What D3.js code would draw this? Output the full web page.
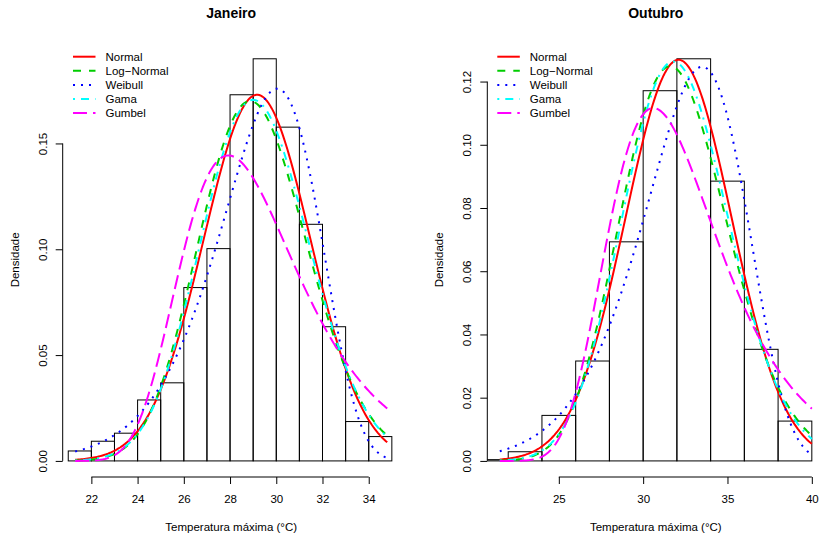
<!DOCTYPE html>
<html>
<head>
<meta charset="utf-8">
<script src="https://cdn.jsdelivr.net/npm/d3@7"></script>
<style>
  body { margin: 0; background: #fff; }
  svg { display: block; }
  text { font-family: "Liberation Sans", Arial, Helvetica, sans-serif; fill: #000; }
</style>
</head>
<body>
<svg id="chart" width="819" height="538"></svg>
<script>
// Fitted distributions, in legend order
const legendLabels = ["Normal", "Log\u2212Normal", "Weibull", "Gama", "Gumbel"];
const lineColors = ["#FF0000", "#00CD00", "#0000FF", "#00FFFF", "#FF00FF"];
const lineDashes = [null, "8,8", "2,6", "2,6,8,6", "14,6"];

// Janeiro: histogram (density scale) and fitted parameters
const janBreaks  = [20, 21, 22, 23, 24, 25, 26, 27, 28, 29, 30, 31, 32, 33, 34, 35];
const janDensity = [0, 0.0047, 0.0093, 0.0131, 0.0288, 0.0369, 0.0819, 0.1003,
                    0.1730, 0.1900, 0.1577, 0.1118, 0.0634, 0.0186, 0.0115];
const janDataRange = [21.3, 34.8];
const janTicksX = [22, 24, 26, 28, 30, 32, 34];
const janTicksY = [0, 0.05, 0.10, 0.15];
// [normal mean, sd], [lognormal meanlog, sdlog], [weibull shape, scale],
// [gamma shape, rate], [gumbel location, scale]
const janParams = [[29.17, 2.306], [3.3694, 0.081], [14.4, 30.19], [155, 5.31], [27.93, 2.549]];

// Outubro
const outBreaks  = [20, 22, 24, 26, 28, 30, 32, 34, 36, 38, 40];
const outDensity = [0.0004, 0.0029, 0.0144, 0.0316, 0.0693, 0.1171, 0.1272, 0.0885, 0.0353, 0.0126];
const outDataRange = [21.5, 40];
const outTicksX = [25, 30, 35, 40];
const outTicksY = [0, 0.02, 0.04, 0.06, 0.08, 0.10, 0.12];
const outParams = [[32.1, 3.144], [3.4633, 0.1006], [11.4, 33.77], [102.5, 3.193], [30.6, 3.296]];

// ---- density functions ----
function lnGamma(z) {
  const g = 7;
  const c = [0.99999999999980993, 676.5203681218851, -1259.1392167224028,
    771.32342877765313, -176.61502916214059, 12.507343278686905,
    -0.13857109526572012, 9.9843695780195716e-6, 1.5056327351493116e-7];
  if (z < 0.5) return Math.log(Math.PI / Math.sin(Math.PI * z)) - lnGamma(1 - z);
  z -= 1;
  let a = c[0];
  const t = z + g + 0.5;
  for (let i = 1; i < g + 2; i++) a += c[i] / (z + i);
  return 0.5 * Math.log(2 * Math.PI) + (z + 0.5) * Math.log(t) - t + Math.log(a);
}
const densityFns = [
  (x, [m, s]) => Math.exp(-0.5 * ((x - m) / s) ** 2) / (s * Math.sqrt(2 * Math.PI)),
  (x, [ml, sl]) => Math.exp(-0.5 * ((Math.log(x) - ml) / sl) ** 2) / (x * sl * Math.sqrt(2 * Math.PI)),
  (x, [k, l]) => (k / l) * Math.pow(x / l, k - 1) * Math.exp(-Math.pow(x / l, k)),
  (x, [k, r]) => Math.exp(k * Math.log(r) - lnGamma(k) + (k - 1) * Math.log(x) - r * x),
  (x, [mu, b]) => { const z = (x - mu) / b; return Math.exp(-(z + Math.exp(-z))) / b; }
];

// ---- layout ----
const plotTop = 42.7, plotBottom = 477, plotWidth = 337;
const panels = [
  { title: "Janeiro", breaks: janBreaks, density: janDensity, range: janDataRange,
    ticksX: janTicksX, ticksY: janTicksY, params: janParams, left: 62.7, legendX: 73 },
  { title: "Outubro", breaks: outBreaks, density: outDensity, range: outDataRange,
    ticksX: outTicksX, ticksY: outTicksY, params: outParams, left: 487.3, legendX: 497.3 }
];

const svg = d3.select("#chart");
const fmt = d3.format(".2f");

panels.forEach((p, pi) => {
  const span = p.range[1] - p.range[0];
  const x = d3.scaleLinear()
    .domain([p.range[0] - 0.04 * span, p.range[1] + 0.04 * span])
    .range([p.left, p.left + plotWidth]);
  const ymax = d3.max(p.density);
  const y = d3.scaleLinear()
    .domain([-0.04 * ymax, 1.04 * ymax])
    .range([plotBottom, plotTop]);
  const cx = p.left + plotWidth / 2;

  const clipId = "clip" + pi;
  svg.append("clipPath").attr("id", clipId)
    .append("rect")
    .attr("x", p.left).attr("y", plotTop)
    .attr("width", plotWidth).attr("height", plotBottom - plotTop);

  const plot = svg.append("g").attr("clip-path", `url(#${clipId})`);

  // histogram bars
  const bins = p.density.map((d, i) => ({ x0: p.breaks[i], x1: p.breaks[i + 1], d }));
  plot.selectAll("rect.bar").data(bins).join("rect")
    .attr("class", "bar")
    .attr("x", b => x(b.x0))
    .attr("y", b => y(b.d))
    .attr("width", b => x(b.x1) - x(b.x0))
    .attr("height", b => y(0) - y(b.d))
    .attr("fill", "none")
    .attr("stroke", "#000")
    .attr("stroke-width", 1);

  // fitted density curves
  const n = 200;
  const xs = d3.range(n + 1).map(i => p.range[0] + span * i / n);
  const line = d3.line().x(d => x(d[0])).y(d => y(d[1]));
  densityFns.forEach((fn, k) => {
    const pts = xs.map(v => [v, fn(v, p.params[k])]);
    plot.append("path")
      .attr("d", line(pts))
      .attr("fill", "none")
      .attr("stroke", lineColors[k])
      .attr("stroke-width", 2)
      .attr("stroke-dasharray", lineDashes[k]);
  });

  // x axis
  const xAxis = svg.append("g").attr("transform", `translate(0,${plotBottom})`)
    .call(d3.axisBottom(x).tickValues(p.ticksX).tickSize(7).tickPadding(10.5).tickFormat(d3.format("d")));
  xAxis.select(".domain").remove();
  xAxis.selectAll("text").attr("font-size", "11.5px").attr("font-family", null);
  xAxis.append("line")
    .attr("x1", x(p.ticksX[0])).attr("x2", x(p.ticksX[p.ticksX.length - 1]))
    .attr("stroke", "#000");

  // y axis
  const yAxis = svg.append("g").attr("transform", `translate(${p.left},0)`)
    .call(d3.axisLeft(y).tickValues(p.ticksY).tickSize(7).tickFormat(fmt));
  yAxis.select(".domain").remove();
  yAxis.selectAll("text")
    .attr("font-size", "11.5px").attr("font-family", null)
    .attr("x", 0).attr("dy", "0.35em")
    .attr("text-anchor", "middle")
    .attr("transform", "translate(-20,0) rotate(-90)");
  yAxis.append("line")
    .attr("y1", y(p.ticksY[0])).attr("y2", y(p.ticksY[p.ticksY.length - 1]))
    .attr("stroke", "#000");

  // titles
  svg.append("text").attr("x", cx).attr("y", 18.3)
    .attr("text-anchor", "middle").attr("font-size", "14px").attr("font-weight", "bold")
    .text(p.title);
  svg.append("text").attr("x", cx).attr("y", 530.7)
    .attr("text-anchor", "middle").attr("font-size", "11.5px")
    .text("Temperatura máxima (°C)");
  svg.append("text")
    .attr("transform", `translate(${p.left - 44.2},${(plotTop + plotBottom) / 2}) rotate(-90)`)
    .attr("text-anchor", "middle").attr("font-size", "11.5px")
    .text("Densidade");

  // legend
  const legend = svg.append("g");
  legendLabels.forEach((lab, k) => {
    const ly = 56.7 + k * 14.1;
    legend.append("line")
      .attr("x1", p.legendX).attr("x2", p.legendX + 22.5)
      .attr("y1", ly).attr("y2", ly)
      .attr("stroke", lineColors[k]).attr("stroke-width", 2)
      .attr("stroke-dasharray", lineDashes[k]);
    legend.append("text")
      .attr("x", p.legendX + 32.5).attr("y", ly).attr("dy", "0.35em")
      .attr("font-size", "11.5px")
      .text(lab);
  });
});
</script>
</body>
</html>
